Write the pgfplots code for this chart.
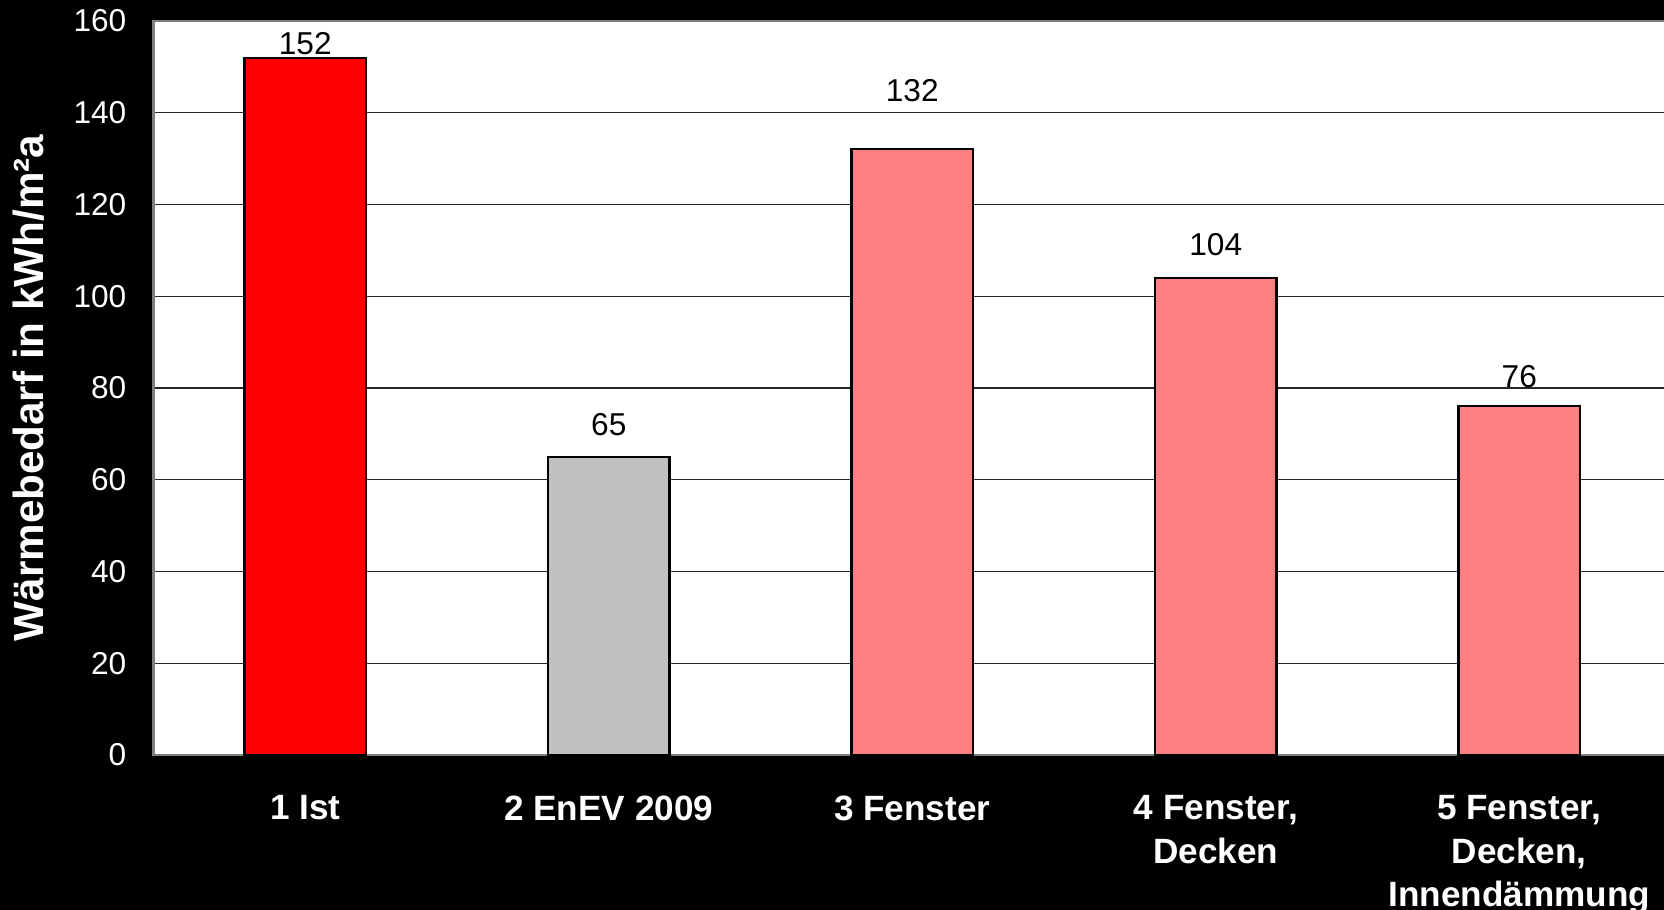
\documentclass[border=0pt]{standalone}
\usepackage{fontspec}
\setmainfont{Liberation Sans}
\usepackage{pgfplots}
\pgfplotsset{compat=1.18}

\definecolor{barred}{HTML}{FF0000}
\definecolor{bargray}{HTML}{C0C0C0}
\definecolor{barpink}{HTML}{FF8080}
\definecolor{framegray}{HTML}{808080}

\begin{document}
\begin{tikzpicture}
% page area, black background
\useasboundingbox (-1.535,-1.55) rectangle (15.105,7.55);
\fill[black] (-1.535,-1.55) rectangle (15.105,7.55);
\clip (-1.535,-1.55) rectangle (15.105,7.55);
\begin{axis}[
  scale only axis,
  width=15.175cm, height=7.34cm,
  xmin=-0.5, xmax=4.5,
  ymin=0, ymax=160,
  ytick={0,20,...,160},
  xtick={0,1,2,3,4},
  xticklabels={1 Ist, 2 EnEV 2009, 3 Fenster, {4 Fenster,\\Decken}, {5 Fenster,\\Decken,\\Innendämmung}},
  axis background/.style={fill=white},
  axis line style={draw=framegray, line width=0.6pt},
  ymajorgrids,
  major grid style={draw=black!85, line width=0.35pt},
  tick style={draw=none},
  /pgf/number format/assume math mode=true,
  yticklabel style={font=\fontsize{9}{10.8}\selectfont, text=white, anchor=east, inner sep=0pt, xshift=-0.265cm},
  xticklabel style={font=\bfseries\fontsize{10}{12.3}\selectfont, text=white, align=center, anchor=north, inner sep=0pt, yshift=-0.40cm},
  ylabel={Wärmebedarf in kWh/m²a},
  every axis y label/.style={at={(axis description cs:0,0.5)}, xshift=-1.25cm, rotate=90, anchor=center,
    font=\bfseries\fontsize{12}{14}\selectfont, text=white},
  every node near coord/.append style={font=\fontsize{9}{10.8}\selectfont, text=black, anchor=center},
  bar width=1.215cm,
]
\addplot[ybar, bar shift=0pt, fill=barred, draw=black, line width=0.6pt,
  nodes near coords, every node near coord/.append style={yshift=0.14cm}]
  coordinates {(0,152)};
\addplot[ybar, bar shift=0pt, fill=bargray, draw=black, line width=0.6pt,
  nodes near coords, every node near coord/.append style={yshift=0.32cm}]
  coordinates {(1,65)};
\addplot[ybar, bar shift=0pt, fill=barpink, draw=black, line width=0.6pt,
  nodes near coords, every node near coord/.append style={yshift=0.59cm}]
  coordinates {(2,132)};
\addplot[ybar, bar shift=0pt, fill=barpink, draw=black, line width=0.6pt,
  nodes near coords, every node near coord/.append style={yshift=0.33cm}]
  coordinates {(3,104)};
\addplot[ybar, bar shift=0pt, fill=barpink, draw=black, line width=0.6pt,
  nodes near coords, every node near coord/.append style={yshift=0.30cm}]
  coordinates {(4,76)};
\end{axis}
\end{tikzpicture}
\end{document}
